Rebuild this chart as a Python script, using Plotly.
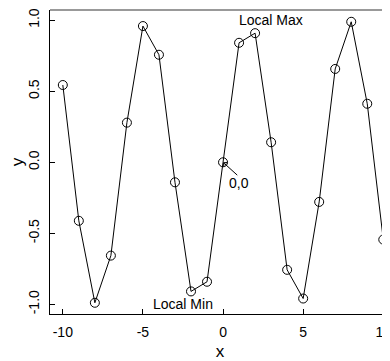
import plotly.graph_objects as go

x_vals = [-10, -9, -8, -7, -6, -5, -4, -3, -2, -1, 0, 1, 2, 3, 4, 5, 6, 7, 8, 9, 10]
y_vals = [0.544, -0.412, -0.989, -0.657, 0.279, 0.959, 0.757, -0.141, -0.909, -0.841,
          0.0, 0.841, 0.909, 0.141, -0.757, -0.959, -0.279, 0.657, 0.989, 0.412, -0.544]
x_ticks = [-10, -5, 0, 5, 10]
x_tick_text = ["-10", "-5", "0", "5", "10"]
y_ticks = [-1.0, -0.5, 0.0, 0.5, 1.0]
y_tick_text = ["-1.0", "-0.5", "0.0", "0.5", "1.0"]

FONT = "Liberation Sans, Arial, sans-serif"

fig = go.Figure()
fig.add_trace(go.Scatter(
    x=x_vals, y=y_vals, mode="lines+markers",
    line=dict(color="black", width=1),
    marker=dict(symbol="circle-open", size=9, color="black", line=dict(width=1)),
    showlegend=False, cliponaxis=False,
))

fig.add_annotation(x=3, y=1.0, text="Local Max", showarrow=False,
                   font=dict(size=14, color="black", family=FONT))
fig.add_annotation(x=-2.5, y=-1.0, text="Local Min", showarrow=False,
                   font=dict(size=14, color="black", family=FONT))
fig.add_annotation(x=1.0, y=-0.145, text="0,0", showarrow=False,
                   font=dict(size=14, color="black", family=FONT))
fig.add_annotation(x=0, y=0, ax=0.98, ay=-0.1, axref="x", ayref="y", text="",
                   showarrow=True, arrowhead=4, arrowsize=1, arrowwidth=1,
                   arrowcolor="black", standoff=0, startstandoff=0)

fig.add_shape(type="line", xref="paper", yref="paper", x0=0, x1=1, y0=1, y1=1,
              line=dict(color="#777777", width=1.5))

# page has an 8px body margin; figure is sized so it ends at the window edge
fig.update_layout(
    width=382, height=353,
    margin=dict(l=42, r=0, t=2, b=47, autoexpand=False),
    plot_bgcolor="white", paper_bgcolor="white",
    font=dict(family=FONT, size=14, color="black"),
    xaxis=dict(range=[-10.8, 10.42], tickvals=x_ticks, ticktext=x_tick_text,
               showgrid=False, zeroline=False, showline=True, linecolor="black",
               linewidth=1, ticks="inside", ticklen=5, tickcolor="black",
               ticklabeloverflow="allow", ticklabelstandoff=5, automargin=False,
               title=dict(text="x", standoff=7)),
    yaxis=dict(range=[-1.068, 1.072], tickvals=y_ticks, ticktext=y_tick_text,
               showgrid=False, zeroline=False, showline=True, linecolor="black",
               linewidth=1, ticks="inside", ticklen=5, tickcolor="black",
               tickangle=-90, ticklabelstandoff=4, automargin=False,
               title=dict(text="y", standoff=1)),
)

fig.write_html("out.html")
